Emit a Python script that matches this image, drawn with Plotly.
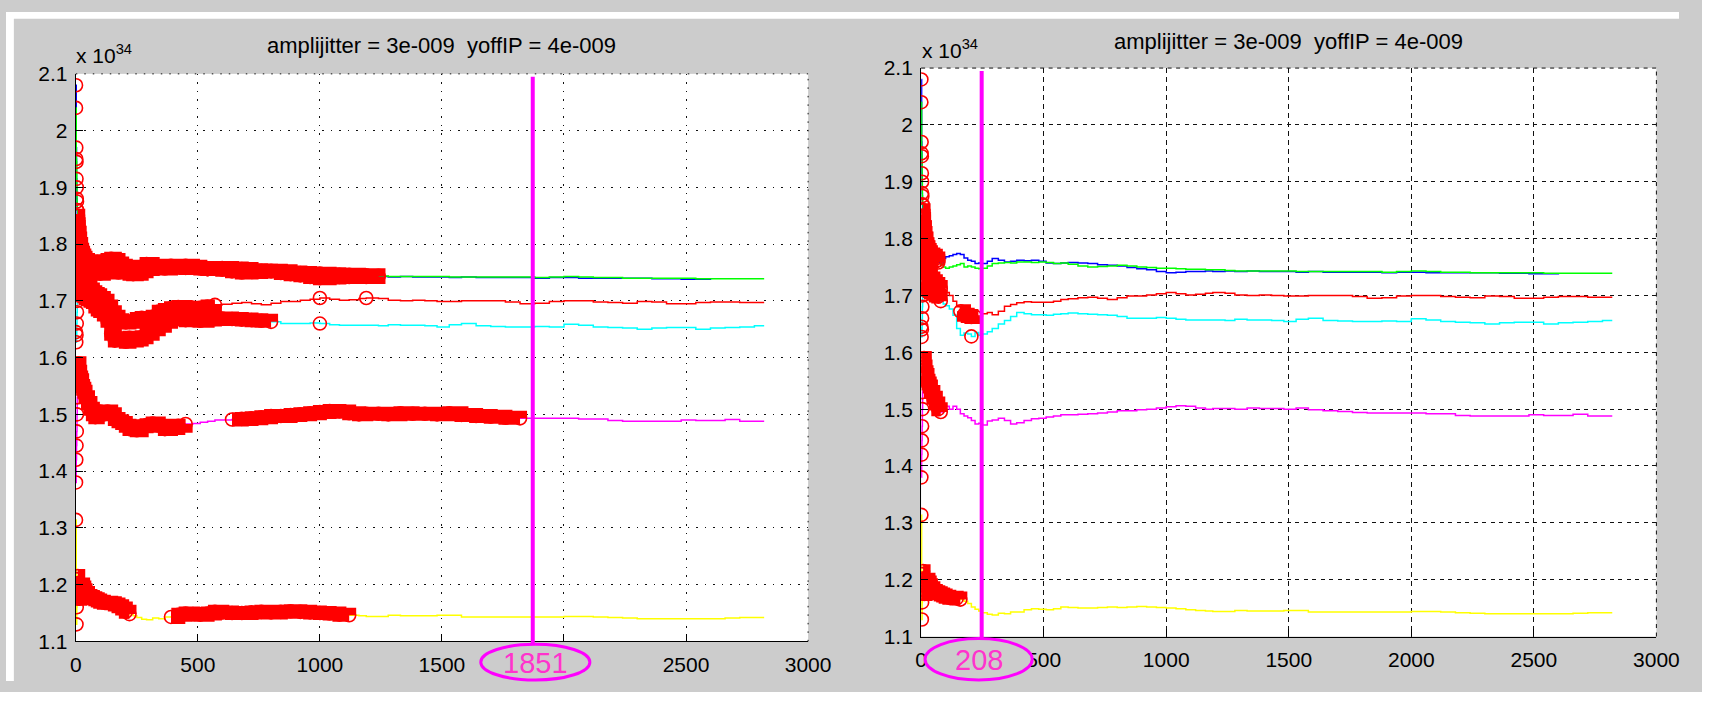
import plotly.graph_objects as go

# Figure is kept a little smaller than the 1718x708 window so the page never scrolls.
W, H = 1702, 692

# ---------------- data (values in units of 1e34) ----------------
X = [1, 2, 3, 4, 5, 6,
     8, 10, 12, 15, 18,
     22, 26, 30, 35, 40,
     50, 60, 70, 80, 90, 100,
     115, 130, 145, 160, 175, 190,
     205, 220, 235, 250, 270, 290,
     315, 340, 365, 390, 420, 450,
     480, 510, 540, 570, 600, 640,
     680, 720, 760, 800, 840, 880,
     920, 960, 1000, 1040, 1080, 1120,
     1160, 1190, 1240, 1280, 1330, 1380,
     1430, 1480, 1530, 1580, 1640, 1700,
     1760, 1820, 1880, 1940, 2000, 2060,
     2120, 2180, 2240, 2300, 2360, 2420,
     2480, 2540, 2600, 2660, 2720, 2780, 2820]

BLUE = [2.08, 1.97, 1.915, 1.88, 1.86, 1.85,
        1.84, 1.83, 1.82, 1.80, 1.79,
        1.785, 1.78, 1.775, 1.77, 1.765,
        1.765, 1.76, 1.758, 1.755, 1.765, 1.768,
        1.770, 1.772, 1.774, 1.772, 1.766, 1.762,
        1.760, 1.756, 1.757, 1.756, 1.760, 1.765,
        1.762, 1.759, 1.760, 1.762, 1.761, 1.762,
        1.760, 1.757, 1.756, 1.757, 1.758, 1.757,
        1.756, 1.754, 1.753, 1.752, 1.749, 1.747,
        1.745, 1.742, 1.740, 1.741, 1.742, 1.742,
        1.743, 1.742, 1.743, 1.742, 1.743, 1.742,
        1.742, 1.742, 1.741, 1.742, 1.741, 1.741,
        1.741, 1.741, 1.740, 1.741, 1.741, 1.740,
        1.740, 1.740, 1.740, 1.740, 1.739, 1.739,
        1.738, 1.738, 1.739, None, None, None, None]

GREEN = [2.04, 1.95, 1.945, 1.90, 1.875, 1.86,
         1.85, 1.835, 1.82, 1.81, 1.80,
         1.79, 1.785, 1.78, 1.776, 1.772,
         1.77, 1.765, 1.762, 1.755, 1.750, 1.748,
         1.750, 1.752, 1.754, 1.756, 1.750, 1.752,
         1.750, 1.748, 1.747, 1.748, 1.752, 1.756,
         1.757, 1.758, 1.757, 1.759, 1.759, 1.758,
         1.759, 1.758, 1.756, 1.757, 1.755, 1.752,
         1.750, 1.751, 1.752, 1.753, 1.752, 1.750,
         1.749, 1.748, 1.748, 1.747, 1.746, 1.746,
         1.745, 1.745, 1.744, 1.743, 1.743, 1.743,
         1.743, 1.743, 1.742, 1.742, 1.742, 1.742,
         1.742, 1.742, 1.741, 1.742, 1.743, 1.742,
         1.741, 1.741, 1.740, 1.740, 1.740, 1.740,
         1.740, 1.739, 1.739, 1.739, 1.739, 1.739, 1.739]

RED = [1.73, 1.80, 1.84, 1.82, 1.79, 1.78,
       1.77, 1.78, 1.76, 1.75, 1.76,
       1.75, 1.745, 1.74, 1.735, 1.73,
       1.725, 1.72, 1.715, 1.712, 1.71, 1.705,
       1.70, 1.69, 1.68, 1.672, 1.666, 1.664,
       1.662, 1.663, 1.664, 1.668, 1.67, 1.666,
       1.672, 1.681, 1.684, 1.687, 1.689, 1.688,
       1.688, 1.688, 1.690, 1.693, 1.694, 1.696,
       1.697, 1.695, 1.693, 1.696, 1.699, 1.699,
       1.701, 1.703, 1.705, 1.703, 1.701, 1.702,
       1.704, 1.705, 1.704, 1.701, 1.700, 1.701,
       1.700, 1.699, 1.699, 1.700, 1.700, 1.700,
       1.698, 1.695, 1.696, 1.699, 1.700, 1.700,
       1.698, 1.697, 1.696, 1.699, 1.698, 1.695,
       1.695, 1.697, 1.698, 1.698, 1.697, 1.697, 1.697]

CYAN = [1.645, 1.627, 1.64, 1.66, 1.68, 1.70,
        1.72, 1.73, 1.74, 1.73, 1.72,
        1.715, 1.71, 1.712, 1.708, 1.705,
        1.703, 1.70, 1.698, 1.690, 1.685, 1.682,
        1.676, 1.665, 1.642, 1.630, 1.634, 1.632,
        1.628, 1.635, 1.630, 1.632, 1.636, 1.642,
        1.650, 1.656, 1.663, 1.670, 1.668, 1.666,
        1.666, 1.665, 1.667, 1.668, 1.669, 1.668,
        1.667, 1.666, 1.665, 1.663, 1.660, 1.660,
        1.660, 1.661, 1.660, 1.658, 1.657, 1.657,
        1.657, 1.657, 1.656, 1.658, 1.657, 1.657,
        1.656, 1.654, 1.658, 1.660, 1.656, 1.655,
        1.654, 1.654, 1.655, 1.654, 1.659, 1.657,
        1.654, 1.653, 1.652, 1.650, 1.652, 1.653,
        1.653, 1.650, 1.652, 1.653, 1.654, 1.656, 1.656]

MAGENTA = [1.38, 1.42, 1.445, 1.47, 1.50, 1.53,
           1.56, 1.58, 1.59, 1.575, 1.565,
           1.56, 1.55, 1.545, 1.54, 1.53,
           1.52, 1.51, 1.50, 1.495, 1.500, 1.505,
           1.500, 1.505, 1.500, 1.492, 1.488, 1.485,
           1.480, 1.474, 1.475, 1.472, 1.479, 1.481,
           1.484, 1.480, 1.474, 1.476, 1.480, 1.483,
           1.484, 1.486, 1.488, 1.490, 1.490, 1.491,
           1.492, 1.493, 1.495, 1.497, 1.497, 1.499,
           1.500, 1.502, 1.504, 1.506, 1.505, 1.502,
           1.500, 1.501, 1.501, 1.500, 1.502, 1.501,
           1.501, 1.500, 1.502, 1.499, 1.497, 1.496,
           1.494, 1.493, 1.493, 1.493, 1.493, 1.492,
           1.492, 1.489, 1.488, 1.488, 1.488, 1.488,
           1.490, 1.489, 1.489, 1.491, 1.488, 1.488, 1.488]

YELLOW = [1.314, 1.21, 1.13, 1.16, 1.19, 1.21,
          1.215, 1.20, 1.19, 1.175, 1.18,
          1.19, 1.20, 1.195, 1.19, 1.185,
          1.18, 1.178, 1.176, 1.174, 1.172, 1.170,
          1.168, 1.168, 1.167, 1.165, 1.162, 1.158,
          1.152, 1.148, 1.145, 1.142, 1.139, 1.138,
          1.141, 1.140, 1.143, 1.143, 1.147, 1.149,
          1.148, 1.147, 1.149, 1.152, 1.151, 1.150,
          1.150, 1.151, 1.152, 1.151, 1.152, 1.153,
          1.152, 1.151, 1.150, 1.149, 1.147, 1.146,
          1.145, 1.144, 1.144, 1.146, 1.145, 1.145,
          1.145, 1.146, 1.146, 1.143, 1.143, 1.143,
          1.143, 1.143, 1.143, 1.143, 1.144, 1.144,
          1.143, 1.142, 1.141, 1.140, 1.140, 1.140,
          1.140, 1.140, 1.140, 1.141, 1.142, 1.142, 1.142]

SERIES_NAMES = ["blue", "green", "red", "cyan", "magenta", "yellow"]
SERIES_VALUES = [BLUE, GREEN, RED, CYAN, MAGENTA, YELLOW]

# x-ranges of the points flagged with red circles, per panel
MARKED_LEFT = {
    "blue": [(0, 1240)],
    "green": [(0, 1240)],
    "red": [(0, 570), (1000, 1000), (1190, 1190)],
    "cyan": [(0, 800), (1000, 1000)],
    "magenta": [(0, 450), (640, 1820)],
    "yellow": [(0, 220), (390, 1120)],
}
MARKED_RIGHT = {
    "blue": [(0, 70)],
    "green": [(0, 70)],
    "red": [(0, 80), (160, 220)],
    "cyan": [(0, 80), (205, 205)],
    "magenta": [(0, 80)],
    "yellow": [(0, 160)],
}

PANEL_TITLE = "amplijitter = 3e-009  yoffIP = 4e-009"
CUT_LEFT, CUT_LEFT_LABEL = 1872, "1851"
CUT_RIGHT, CUT_RIGHT_LABEL = 247, "208"

X_TICKS = [0, 500, 1000, 1500, 2000, 2500, 3000]
X_TICK_TEXT = ["0", "500", "1000", "1500", "2000", "2500", "3000"]
Y_TICKS = [1.1, 1.2, 1.3, 1.4, 1.5, 1.6, 1.7, 1.8, 1.9, 2.0, 2.1]
Y_TICK_TEXT = ["1.1", "1.2", "1.3", "1.4", "1.5", "1.6", "1.7", "1.8", "1.9", "2", "2.1"]

# ---------------- styling ----------------
COLORS = {"blue": "#0000ff", "green": "#00ff00", "red": "#ff0000",
          "cyan": "#00ffff", "magenta": "#ff00ff", "yellow": "#ffff00"}
BG = "#cccccc"
FONT = "Liberation Sans, Arial, sans-serif"
BAND_FROM = 8  # earliest points are drawn as single circles only


def px_x(p):  # window pixel -> paper fraction
    return p / W


def px_y(p):
    return 1 - p / H


fig = go.Figure()


def add_panel(xa, ya, marked):
    for name, ys in zip(SERIES_NAMES, SERIES_VALUES):
        fig.add_trace(go.Scatter(
            x=X, y=ys, mode="lines", line=dict(color=COLORS[name], width=1.5, shape="hv"),
            xaxis=xa, yaxis=ya, showlegend=False, hoverinfo="skip"))
    bx, by, mx, my = [], [], [], []
    for name, ys in zip(SERIES_NAMES, SERIES_VALUES):
        for a, b in marked[name]:
            pts = [(x, y) for x, y in zip(X, ys) if y is not None and a <= x <= b]
            mx += [p[0] for p in pts]
            my += [p[1] for p in pts]
            seg = [p for p in pts if p[0] >= BAND_FROM]
            if len(seg) >= 2:
                bx += [p[0] for p in seg] + [None]
                by += [p[1] for p in seg] + [None]
    fig.add_trace(go.Scatter(
        x=bx, y=by, mode="lines", line=dict(color="#ff0000", width=14, shape="hv"),
        xaxis=xa, yaxis=ya, showlegend=False, hoverinfo="skip"))
    fig.add_trace(go.Scatter(
        x=mx, y=my, mode="markers",
        marker=dict(symbol="circle-open", size=13, color="#ff0000", line=dict(width=1.6, color="#ff0000")),
        xaxis=xa, yaxis=ya, showlegend=False, hoverinfo="skip"))


add_panel("x", "y", MARKED_LEFT)
add_panel("x2", "y2", MARKED_RIGHT)


def axis(domain, gdash, vals, text, rng):
    return dict(domain=domain, range=rng, showline=True, linecolor="black", linewidth=1.2,
                ticks="inside", ticklen=7, tickcolor="black", tickwidth=1.2, mirror=False,
                zeroline=False, showgrid=True, gridcolor="#111111", gridwidth=1, griddash=gdash,
                tickvals=vals, ticktext=text, tickfont=dict(family=FONT, size=21, color="black"),
                fixedrange=True)


LX = [px_x(71), px_x(816)]
RX = [px_x(931), px_x(1679)]
LY = [px_y(651), px_y(64)]
RY = [px_y(646), px_y(58)]

fig.update_layout(
    width=W, height=H, margin=dict(l=0, r=0, t=0, b=0),
    paper_bgcolor=BG, plot_bgcolor="white",
    xaxis=dict(axis(LX, "1.5px,7px", X_TICKS, X_TICK_TEXT, [0, 3000]), anchor="y", ticklabelstandoff=4),
    yaxis=dict(axis(LY, "1.5px,7px", Y_TICKS, Y_TICK_TEXT, [1.1, 2.1]), anchor="x", ticklabelstandoff=3),
    xaxis2=dict(axis(RX, "5px,4px", X_TICKS, X_TICK_TEXT, [0, 3000]), anchor="y2", ticklabelstandoff=4),
    yaxis2=dict(axis(RY, "4px,4.5px", Y_TICKS, Y_TICK_TEXT, [1.1, 2.1]), anchor="x2", ticklabelstandoff=3),
)

shapes = []
# white strips along the top and left window edge
shapes.append(dict(type="rect", xref="paper", yref="paper", x0=0, x1=1, y0=px_y(7), y1=1,
                   fillcolor="white", line=dict(width=0), layer="below"))
shapes.append(dict(type="rect", xref="paper", yref="paper", x0=0, x1=px_x(8), y0=0, y1=1,
                   fillcolor="white", line=dict(width=0), layer="below"))
# top/right box edges drawn like the grid
for xr, yr, gd in (("x", "y", "1.5px,7px"), ("x2", "y2", "4px,4.5px")):
    shapes.append(dict(type="line", xref=xr + " domain", yref=yr + " domain", x0=0, x1=1, y0=1, y1=1,
                       line=dict(color="#111111", width=1, dash=gd), layer="above"))
    shapes.append(dict(type="line", xref=xr + " domain", yref=yr + " domain", x0=1, x1=1, y0=0, y1=1,
                       line=dict(color="#111111", width=1, dash=gd), layer="above"))
# vertical cut markers
shapes.append(dict(type="line", xref="x", yref="paper", x0=CUT_LEFT, x1=CUT_LEFT,
                   y0=px_y(656), y1=px_y(67), line=dict(color="#ff00ff", width=4), layer="above"))
shapes.append(dict(type="line", xref="x2", yref="paper", x0=CUT_RIGHT, x1=CUT_RIGHT,
                   y0=px_y(649), y1=px_y(61), line=dict(color="#ff00ff", width=4), layer="above"))
# ellipses around the labels
shapes.append(dict(type="circle", xref="paper", yref="paper", x0=px_x(483), x1=px_x(594),
                   y0=px_y(691), y1=px_y(654), fillcolor=BG, line=dict(color="#ff00ff", width=3),
                   layer="above"))
shapes.append(dict(type="circle", xref="paper", yref="paper", x0=px_x(935), x1=px_x(1044),
                   y0=px_y(691), y1=px_y(648), fillcolor=BG, line=dict(color="#ff00ff", width=3),
                   layer="above"))
fig.update_layout(shapes=shapes)

ann = []
for cx, cy in ((443.5, 35), (1305, 31)):
    ann.append(dict(text=PANEL_TITLE, xref="paper", yref="paper", x=px_x(cx), y=px_y(cy),
                    xanchor="center", yanchor="middle", showarrow=False,
                    font=dict(family=FONT, size=22, color="black")))
for lx, ly in ((69, 43), (930, 38)):
    ann.append(dict(text="x 10<sup>34</sup>", xref="paper", yref="paper", x=px_x(lx), y=px_y(ly),
                    xanchor="left", yanchor="middle", showarrow=False,
                    font=dict(family=FONT, size=21, color="black")))
for lbl, cx, cy in ((CUT_LEFT_LABEL, 538.5, 673), (CUT_RIGHT_LABEL, 989.5, 670)):
    ann.append(dict(text=lbl, xref="paper", yref="paper", x=px_x(cx), y=px_y(cy),
                    xanchor="center", yanchor="middle", showarrow=False,
                    font=dict(family=FONT, size=29, color="#ff33cc")))
fig.update_layout(annotations=ann)

fig.write_html("out.html")
